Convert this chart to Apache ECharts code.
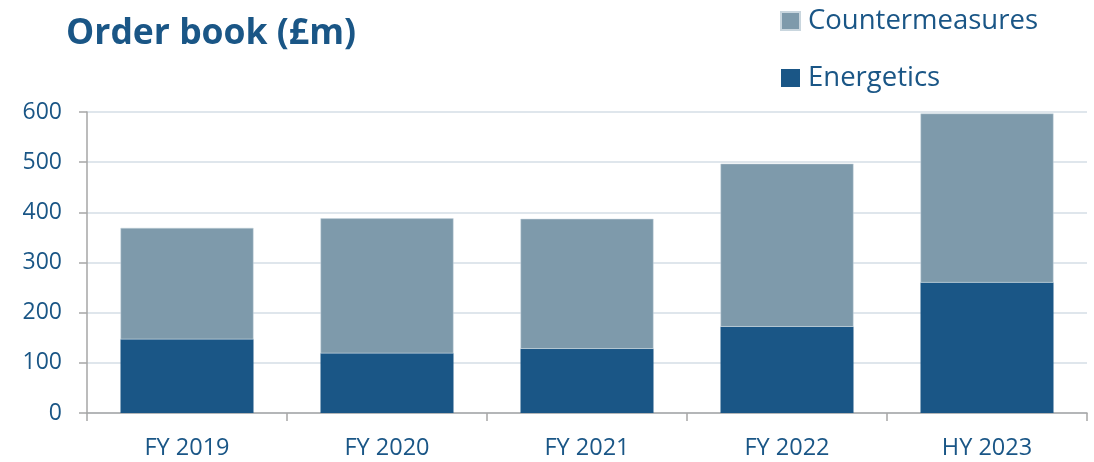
<!DOCTYPE html>
<html>
<head>
<meta charset="utf-8">
<script src="https://cdn.jsdelivr.net/npm/echarts@6/dist/echarts.min.js"></script>
<style>
html,body{margin:0;padding:0;background:#fff;}
#chart{width:1094px;height:462px;}
</style>
</head>
<body>
<div id="chart"></div>
<script>
var categories = ['FY 2019', 'FY 2020', 'FY 2021', 'FY 2022', 'HY 2023'];
var energetics = [147, 119, 128, 172, 260];
var countermeasures = [222, 269, 259, 325, 337];
var yTicks = [0, 100, 200, 300, 400, 500, 600];

var blue = '#1a5686';
var grey = '#7e9aab';
var font = 'Open Sans';

var chart = echarts.init(document.getElementById('chart'));
chart.setOption({
  backgroundColor: '#fff',
  animation: false,
  title: {
    text: 'Order book (£m)',
    left: 61, top: 11,
    textStyle: {color: blue, fontFamily: font, fontWeight: 'bold', fontSize: 35.5}
  },
  legend: {
    data: ['Countermeasures', 'Energetics'],
    orient: 'vertical',
    left: 775, top: 2,
    itemWidth: 19, itemHeight: 18,
    itemGap: 29,
    icon: 'rect',
    textStyle: {color: blue, fontFamily: font, fontSize: 27.5, padding: [0, 0, 0, 3]}
  },
  grid: {left: 87, right: 7, top: 112, bottom: 49},
  xAxis: {
    type: 'category',
    data: categories,
    axisLine: {lineStyle: {color: '#a6a6a6', width: 1.5}},
    axisTick: {show: true, length: 8, lineStyle: {color: '#a6a6a6', width: 1.5}},
    axisLabel: {color: blue, fontFamily: font, fontSize: 23.5, margin: 23}
  },
  yAxis: {
    type: 'value',
    min: yTicks[0], max: yTicks[yTicks.length - 1], interval: 100,
    axisLine: {show: true, lineStyle: {color: '#a6a6a6', width: 1.5}},
    axisTick: {show: true, length: 8, lineStyle: {color: '#a6a6a6', width: 1.5}},
    axisLabel: {color: blue, fontFamily: font, fontSize: 23, margin: 25},
    splitLine: {lineStyle: {color: '#d5dee6', width: 1.5}}
  },
  series: [
    {
      name: 'Energetics', type: 'bar', stack: 'total',
      data: energetics, barWidth: '66.5%',
      itemStyle: {color: blue}
    },
    {
      name: 'Countermeasures', type: 'bar', stack: 'total',
      data: countermeasures, barWidth: '66.5%',
      itemStyle: {color: grey, borderColor: '#c9d6de', borderWidth: 0.5}
    }
  ]
});
</script>
</body>
</html>
